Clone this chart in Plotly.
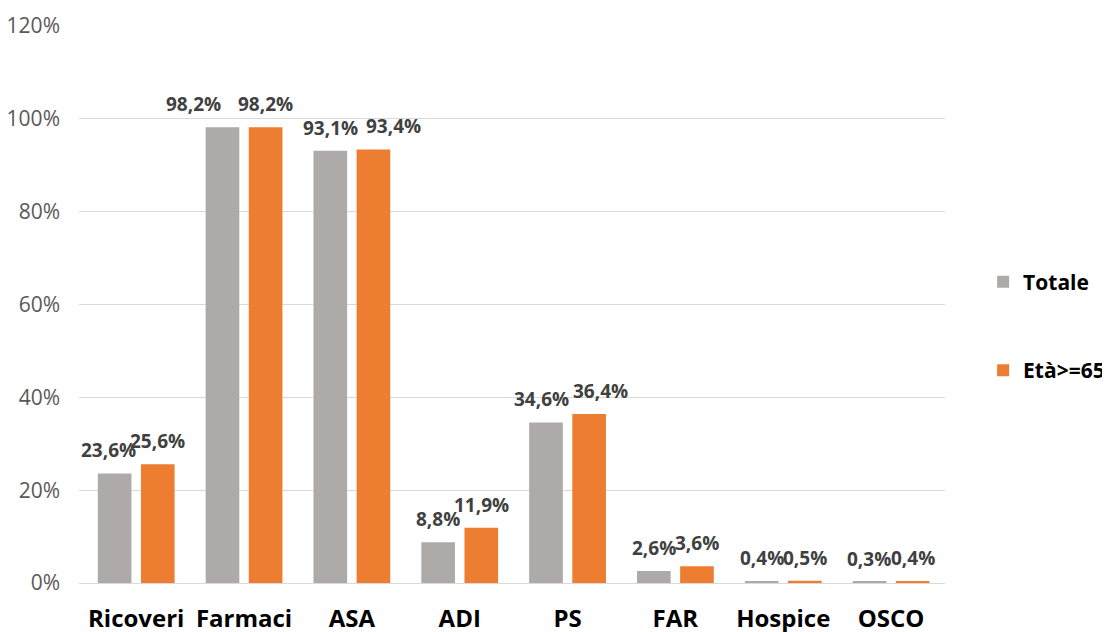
import plotly.graph_objects as go

categories = ["Ricoveri", "Farmaci", "ASA", "ADI", "PS", "FAR", "Hospice", "OSCO"]
totale = [23.6, 98.2, 93.1, 8.8, 34.6, 2.6, 0.4, 0.3]
eta65 = [25.6, 98.2, 93.4, 11.9, 36.4, 3.6, 0.5, 0.4]
series_names = ["Totale", "Età>=65"]
y_ticks = [0, 20, 40, 60, 80, 100, 120]

GRAY = "#AEAAAA"
ORANGE = "#ED7D31"
FONT = "Open Sans"

# small horizontal nudges for crowded labels (style only), like the original
label_nudge = {("Ricoveri", 0): -6, ("Farmaci", 0): -29, ("ASA", 1): 20,
               ("PS", 0): -4, ("PS", 1): 11}

def fmt(v):
    return f"{v:.1f}%".replace(".", ",")

fig = go.Figure()
for name, vals, col in [(series_names[0], totale, GRAY), (series_names[1], eta65, ORANGE)]:
    fig.add_trace(go.Bar(
        x=categories, y=[v / 100 for v in vals], name=name,
        marker=dict(color=col, line=dict(width=0)),
        legendgroup=name,
    ))

annotations = []
for si, (vals, shift) in enumerate([(totale, -21.7), (eta65, 21.7)]):
    for c, v in zip(categories, vals):
        annotations.append(dict(
            x=c, y=v / 100, xref="x", yref="y", text=fmt(v),
            showarrow=False, xshift=shift + label_nudge.get((c, si), 0),
            yshift=8, yanchor="bottom",
            font=dict(family=FONT, size=19, color="#404040", weight="bold"),
        ))

fig.update_layout(
    width=1110, height=632,
    paper_bgcolor="white", plot_bgcolor="white",
    margin=dict(l=71, r=173, t=18, b=57, autoexpand=False),
    barmode="group", bargap=0.2, bargroupgap=0.22,
    annotations=annotations,
    showlegend=True,
    legend=dict(
        x=1.044, y=0.461, xanchor="left", yanchor="middle",
        font=dict(family=FONT, size=21, color="#000000", weight="bold"),
        tracegroupgap=58, itemwidth=30,
    ),
    xaxis=dict(
        tickfont=dict(family=FONT, size=24, color="#000000", weight="bold"),
        showgrid=False, showline=False, ticks="", automargin=False,
        ticklabelstandoff=19,
    ),
    yaxis=dict(
        range=[0, 1.2], tickvals=[t / 100 for t in y_ticks],
        ticktext=[f"{t}%" for t in y_ticks],
        tickfont=dict(family=FONT, size=21, color="#595959"),
        showgrid=True, gridcolor="#D9D9D9", gridwidth=1,
        zeroline=True, zerolinecolor="#D9D9D9", zerolinewidth=1,
        showline=False, ticks="", automargin=False,
        ticklabelstandoff=18,
    ),
)

fig.write_html("out.html")
